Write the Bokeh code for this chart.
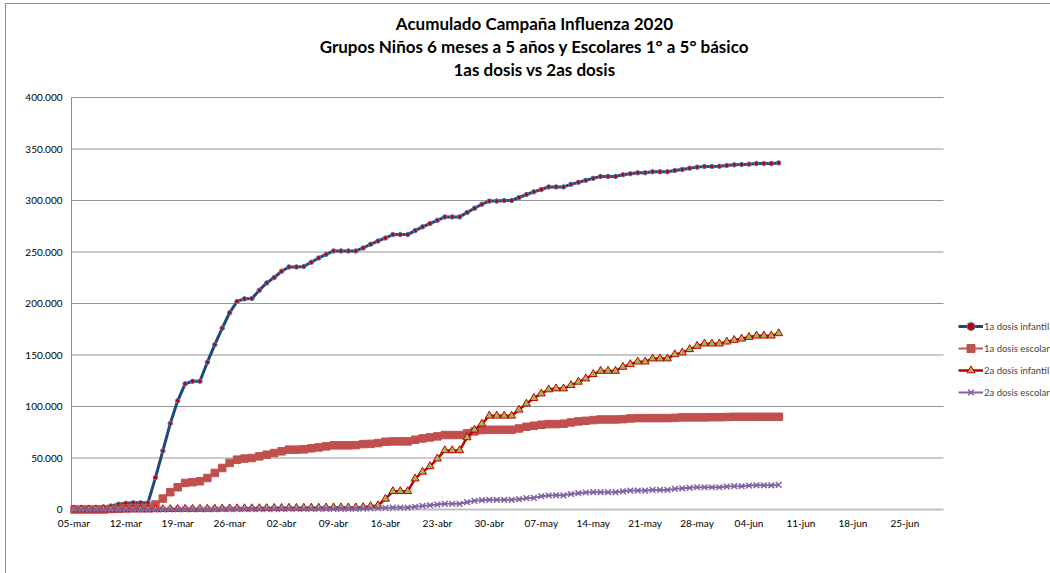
import pandas as pd
from bokeh.plotting import figure
from bokeh.models import Range1d, FixedTicker, Label, Legend, LegendItem
from bokeh.embed import file_html
from bokeh.resources import INLINE

# ---------------- data ----------------
dates = pd.date_range("2020-03-05", "2020-06-08", freq="D")

infantil_1a = [
    300, 600, 900, 1500, 2500, 3400, 5100, 6000, 6500, 6500,
    6500, 31000, 57000, 83500, 105500, 122000, 124500, 124500, 143000, 160000,
    176000, 191000, 202000, 204500, 204800, 212900, 220000, 225200, 231300, 235500,
    235500, 236000, 240000, 244200, 247700, 251000, 251000, 251000, 251000, 253900,
    257500, 260700, 263600, 266900, 266900, 266900, 270800, 274400, 277600, 280800,
    284100, 284100, 284100, 288300, 292500, 296400, 299400, 299400, 300000, 300000,
    302900, 305800, 308400, 310700, 313200, 313200, 313200, 315700, 317600, 319600,
    321500, 323400, 323400, 323400, 325000, 326000, 326900, 326900, 327900, 327900,
    327900, 329200, 330100, 331400, 332400, 333000, 333000, 333300, 334000, 334600,
    334900, 335300, 335900, 335900, 335900, 336500]

escolar_1a = [
    0, 0, 0, 0, 0, 500, 800, 1200, 1500, 1500,
    1500, 4800, 10600, 16800, 21600, 25800, 26500, 27400, 30600, 35500,
    40300, 45200, 48400, 49400, 50000, 51600, 53200, 54800, 56500, 58100,
    58100, 58400, 59400, 60300, 61300, 62300, 62300, 62300, 62500, 63500,
    63700, 64500, 65800, 66100, 66100, 66100, 67700, 69000, 70000, 71000,
    72300, 72300, 72300, 73900, 75800, 77100, 77400, 77400, 77400, 77400,
    78700, 80300, 81300, 82300, 82900, 82900, 83300, 84500, 85500, 86100,
    86800, 87400, 87400, 87400, 87700, 88400, 88700, 88700, 88700, 88700,
    88700, 89000, 89400, 89400, 89400, 89400, 89600, 89600, 89800, 90000,
    90000, 90000, 90000, 90000, 90000, 90000]

infantil_2a = [
    0, 0, 0, 0, 0, 0, 0, 0, 0, 0,
    0, 100, 200, 300, 400, 500, 500, 500, 600, 700,
    800, 900, 1000, 1000, 1000, 1100, 1200, 1300, 1400, 1500,
    1500, 1500, 1600, 1700, 1800, 1900, 1900, 1900, 1900, 2300,
    3200, 3900, 10300, 17700, 17700, 17700, 30000, 36500, 41900, 49400,
    57400, 57400, 57400, 70000, 77400, 83200, 91000, 91000, 91000, 91000,
    96800, 102600, 108100, 112500, 116500, 117400, 117400, 120600, 123900, 127100,
    131300, 134500, 134500, 134500, 138400, 141000, 143500, 143500, 146500, 146500,
    146500, 150600, 152300, 155500, 158700, 161000, 161000, 161000, 162900, 164500,
    165800, 167400, 168700, 168700, 168700, 171000]

escolar_2a = [
    0, 0, 0, 0, 0, 0, 0, 0, 0, 0,
    0, 0, 0, 0, 0, 100, 100, 100, 150, 200,
    250, 300, 300, 300, 300, 350, 400, 400, 450, 500,
    500, 500, 550, 600, 650, 700, 700, 700, 700, 800,
    1000, 1300, 1600, 1900, 1900, 1900, 2600, 3500, 4200, 4800,
    5500, 5500, 5500, 7100, 8400, 9000, 9400, 9400, 9400, 9400,
    10000, 11000, 11300, 12900, 13600, 13800, 13800, 15000, 15800, 16500,
    16800, 16800, 16800, 16800, 17700, 18400, 18400, 18400, 19000, 19000,
    19000, 20000, 20600, 21000, 21600, 21600, 21600, 21600, 22300, 22600,
    22600, 23200, 23500, 23500, 23500, 23900]

tick_dates = pd.date_range("2020-03-05", "2020-06-25", freq="7D")
tick_labels = ["05-mar", "12-mar", "19-mar", "26-mar", "02-abr", "09-abr", "16-abr",
               "23-abr", "30-abr", "07-may", "14-may", "21-may", "28-may", "04-jun",
               "11-jun", "18-jun", "25-jun"]
y_ticks = [0, 50000, 100000, 150000, 200000, 250000, 300000, 350000, 400000]
y_tick_labels = ["0", "50.000", "100.000", "150.000", "200.000", "250.000",
                 "300.000", "350.000", "400.000"]
title_lines = ["Acumulado Campaña Influenza 2020",
               "Grupos Niños 6 meses a 5 años y Escolares 1° a 5° básico",
               "1as dosis vs 2as dosis"]
series_names = ["1a dosis infantil", "1a dosis escolar", "2a dosis infantil", "2a dosis escolar"]

# ---------------- plot ----------------
x = [(d - dates[0]).days for d in dates]
tick_days = [(d - dates[0]).days for d in tick_dates]

FONT = "Lato"
AX_LO, AX_HI = -0.31, 117.21     # extent of the plot area along x (days)

p = figure(width=1050, height=573, output_backend="svg", toolbar_location=None,
           x_range=Range1d(-0.445, 131.63), y_range=Range1d(-5825, 494175),
           min_border_left=70, min_border_right=0, min_border_top=0,
           min_border_bottom=58)
p.outline_line_color = None
p.background_fill_alpha = 0
p.border_fill_alpha = 0
# chart-area frame (thin grey line on top and left, as in the spreadsheet export)
p.styles = {
    "background-color": "white",
    "background-image": "linear-gradient(#8c8c8c, #8c8c8c), linear-gradient(#8c8c8c, #8c8c8c)",
    "background-size": "1045px 1px, 1px 570px",
    "background-position": "5px 3px, 5px 3px",
    "background-repeat": "no-repeat",
}
p.xgrid.visible = False
p.ygrid.visible = False

p.yaxis.ticker = FixedTicker(ticks=y_ticks)
p.yaxis.major_label_overrides = dict(zip(y_ticks, y_tick_labels))
p.yaxis.major_tick_line_color = None
p.yaxis.minor_tick_line_color = None
p.yaxis.major_tick_out = 0
p.yaxis.major_tick_in = 0
p.yaxis.axis_line_color = None
p.yaxis.major_label_text_font = FONT
p.yaxis.major_label_text_font_size = "10px"
p.yaxis.major_label_text_color = "black"
p.yaxis.major_label_standoff = 8

p.xaxis.ticker = FixedTicker(ticks=tick_days)
p.xaxis.major_label_overrides = dict(zip(tick_days, tick_labels))
p.xaxis.major_tick_line_color = None
p.xaxis.minor_tick_line_color = None
p.xaxis.major_tick_out = 0
p.xaxis.major_tick_in = 0
p.xaxis.axis_line_color = None
p.xaxis.major_label_text_font = FONT
p.xaxis.major_label_text_font_size = "10px"
p.xaxis.major_label_text_color = "black"
p.xaxis.major_label_standoff = 1

# plot-area gridlines, baseline and value axis line (limited to the plot area)
grid_y = y_ticks[1:]
p.segment(x0=[AX_LO] * len(grid_y), x1=[AX_HI] * len(grid_y), y0=grid_y, y1=grid_y,
          line_color="#969696", line_width=1)
p.segment(x0=[AX_LO], x1=[AX_HI], y0=[y_ticks[0]], y1=[y_ticks[0]],
          line_color="#BFBFBF", line_width=2)
p.segment(x0=[AX_LO], x1=[AX_LO], y0=[y_ticks[0]], y1=[y_ticks[-1]],
          line_color="#8C8C8C", line_width=1)

r1l = p.line(x, infantil_1a, line_color="#1F497D", line_width=3)
r1m = p.scatter(x, infantil_1a, marker="circle", size=4.5, fill_color="#C00000",
                line_color="#4F81BD", line_width=1)
r2l = p.line(x, escolar_1a, line_color="#C0504D", line_width=2)
r2m = p.scatter(x, escolar_1a, marker="square", size=7.5, fill_color="#C0504D",
                line_color="#C0504D", line_width=1)
r3l = p.line(x, infantil_2a, line_color="#C00000", line_width=2.5)
r3m = p.scatter(x, infantil_2a, marker="triangle", size=8, fill_color="#9BBB59",
                line_color="#C00000", line_width=1)
r4l = p.line(x, escolar_2a, line_color="#8064A2", line_width=2)
r4m = p.scatter(x, escolar_2a, marker="x", size=8, line_color="#8064A2", line_width=1.5)

items = [LegendItem(label=series_names[0], renderers=[r1l, r1m]),
         LegendItem(label=series_names[1], renderers=[r2l, r2m]),
         LegendItem(label=series_names[2], renderers=[r3l, r3m]),
         LegendItem(label=series_names[3], renderers=[r4l, r4m])]
legend = Legend(items=items, location=(888, 113), padding=0, margin=0,
                spacing=2, glyph_width=25, glyph_height=20, label_height=20,
                label_standoff=1, label_text_font=FONT, label_text_font_size="9.5px",
                border_line_color=None, background_fill_alpha=0)
p.add_layout(legend)

for txt, yy in zip(title_lines, [492, 469, 446]):
    p.add_layout(Label(x=464, y=yy, x_units="screen", y_units="screen", text=txt,
                       text_align="center", text_baseline="middle",
                       text_font=FONT, text_font_style="bold",
                       text_font_size="17px", text_color="black"))

open("out.html", "w").write(file_html(p, INLINE))
